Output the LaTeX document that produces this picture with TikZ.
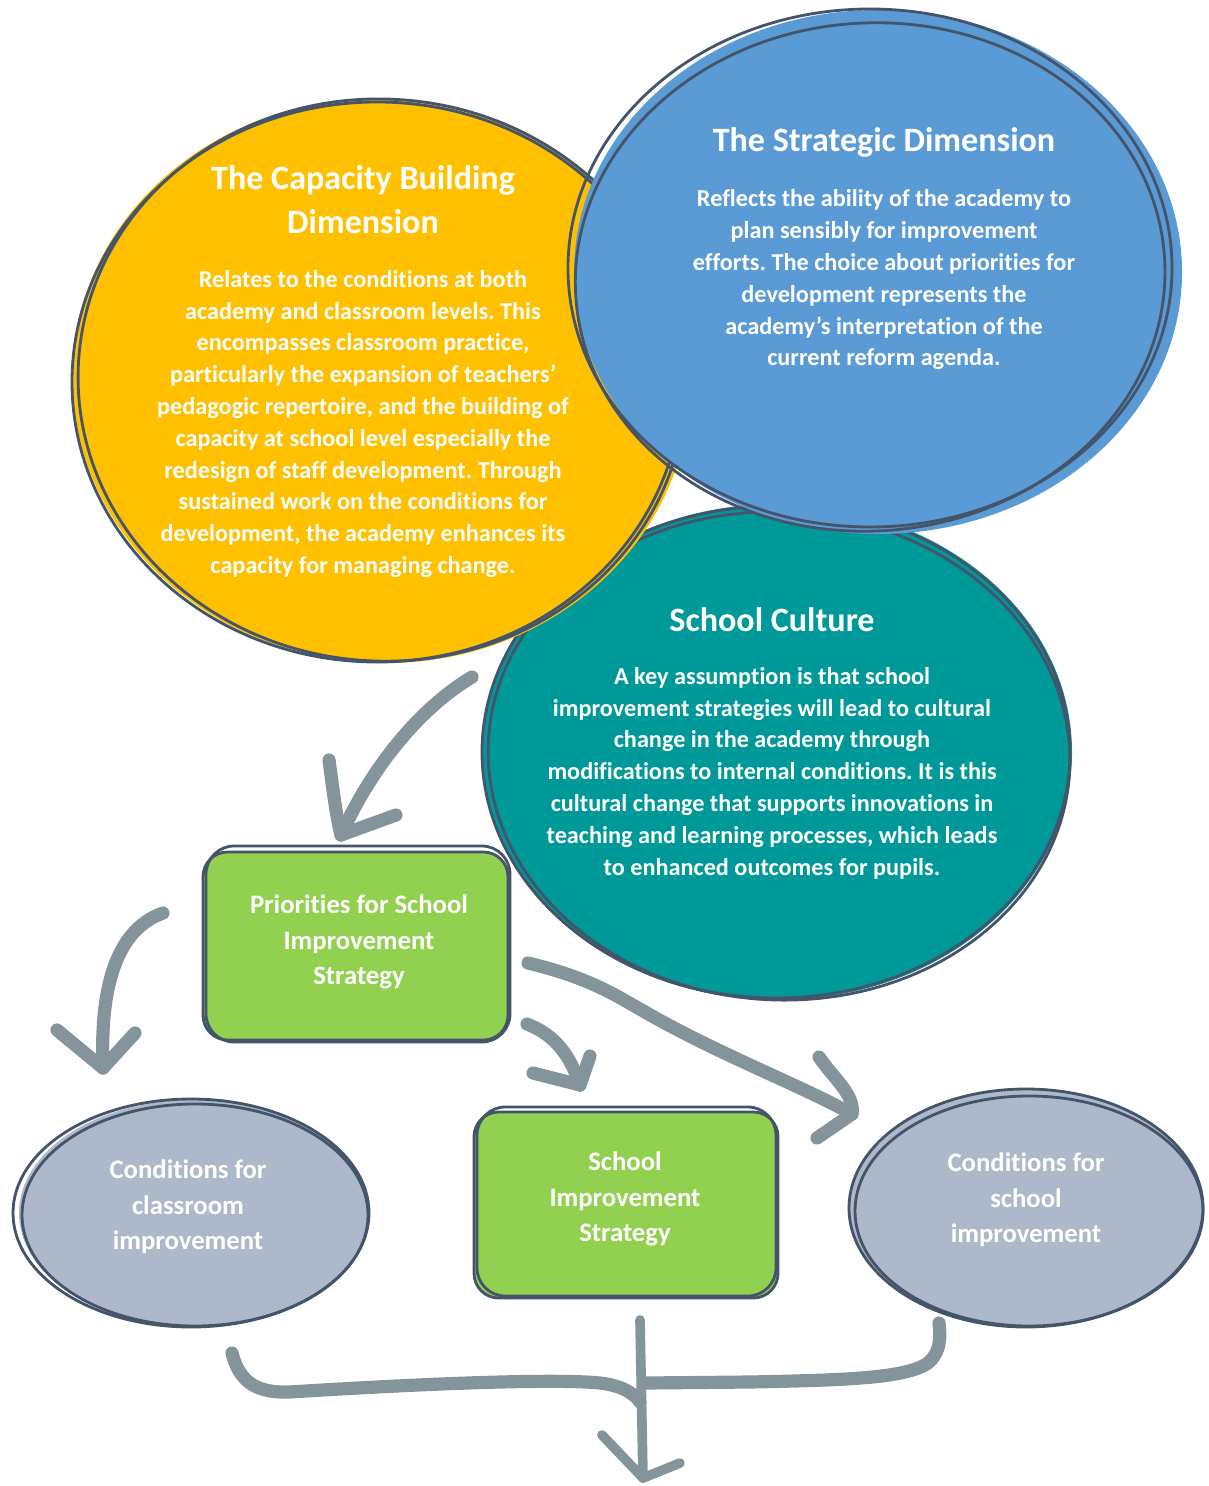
\documentclass[tikz,border=0pt]{standalone}
\usepackage{fontspec}
\setmainfont{Carlito}[Ligatures={NoCommon,NoContextual},RawFeature={-liga;-clig;-calt;-dlig}]
\frenchspacing
\definecolor{cYel}{HTML}{FFC000}
\definecolor{cBlue}{HTML}{5B9BD5}
\definecolor{cTeal}{HTML}{009999}
\definecolor{cGreen}{HTML}{92D050}
\definecolor{cGrey}{HTML}{ADB9CA}
\definecolor{cLine}{HTML}{44546A}
\definecolor{cArrow}{HTML}{84949B}
\begin{document}
\begin{tikzpicture}[x=0.02cm,y=-0.02cm,
 outl/.style={draw=cLine, line width=1.6pt},
 arr/.style={draw=cArrow, line width=7.5pt, line cap=round, line join=round},
 arrthin/.style={draw=cArrow, line width=5.5pt, line cap=round, line join=round},
 title/.style={text=white, font=\bfseries\fontsize{19.4}{25}\selectfont, align=center, inner sep=0pt},
 body/.style={text=white, font=\bfseries\fontsize{13.8}{18.1}\selectfont, align=center, inner sep=0pt},
 boxtxt/.style={text=white, font=\bfseries\fontsize{15.2}{20.1}\selectfont, align=center, inner sep=0pt},
]
\useasboundingbox (0,0) rectangle (1208,1486);
% teal (bottom layer)
\fill[cTeal] (777,752) ellipse [x radius=295, y radius=248];
\draw[outl] (776,752) ellipse [x radius=294, y radius=246];
\draw[outl, rotate around={-3:(780,756)}] (779,756) ellipse [x radius=291, y radius=244];
% yellow
\fill[cYel, rotate around={-4:(381,381)}] (381,381) ellipse [x radius=309, y radius=282];
\draw[outl] (377,382) ellipse [x radius=305, y radius=280];
\draw[outl, rotate around={-4:(381,380)}] (382,380) ellipse [x radius=304, y radius=281];
% blue (top layer)
\fill[cBlue] (878,272) ellipse [x radius=304, y radius=262];
\draw[outl] (870,268) ellipse [x radius=302, y radius=259];
\draw[outl, rotate around={4:(870,275)}] (870,277) ellipse [x radius=295, y radius=254];
% green boxes
\fill[cGreen, rounded corners=14pt] (203,852) rectangle (508,1040);
\draw[outl, rounded corners=14pt] (203,852) rectangle (508,1040);
\draw[outl, rounded corners=16pt] (206,846) rectangle (510,1042);
\fill[cGreen, rounded corners=14pt] (474,1112) rectangle (778,1298);
\draw[outl, rounded corners=14pt] (474,1112) rectangle (778,1298);
\draw[outl, rounded corners=16pt] (477,1107) rectangle (776,1296);
% grey ellipses
\fill[cGrey] (193,1213) ellipse [x radius=174, y radius=113];
\draw[outl] (191,1213) ellipse [x radius=178, y radius=114];
\draw[outl] (195,1215) ellipse [x radius=173, y radius=111];
\fill[cGrey] (1027,1208) ellipse [x radius=177, y radius=118];
\draw[outl] (1026,1208) ellipse [x radius=177, y radius=119];
\draw[outl] (1029,1211) ellipse [x radius=174, y radius=115];
% texts
\node[title] (capT) at (363,200) {The Capacity Building\\Dimension};
\node[body] (capB) at (363,424) {Relates to the conditions at both\\
academy and classroom levels. This\\
encompasses classroom practice,\\
particularly the expansion of teachers’\\
pedagogic repertoire, and the building of\\
capacity at school level especially the\\
redesign of staff development. Through\\
sustained work on the conditions for\\
development, the academy enhances its\\
capacity for managing change.};
\node[title] (strT) at (884,142) {The Strategic Dimension};
\node[body] (strB) at (884,280) {Reflects the ability of the academy to\\
plan sensibly for improvement\\
efforts. The choice about priorities for\\
development represents the\\
academy’s interpretation of the\\
current reform agenda.};
\node[title] (culT) at (772,620) {School Culture};
\node[body] (culB) at (772,773) {A key assumption is that school\\
improvement strategies will lead to cultural\\
change in the academy through\\
modifications to internal conditions. It is this\\
cultural change that supports innovations in\\
teaching and learning processes, which leads\\
to enhanced outcomes for pupils.};
\node[boxtxt] (pri) at (359,942) {Priorities for School\\Improvement\\Strategy};
\node[boxtxt] (sis) at (625,1199) {School\\Improvement\\Strategy};
\node[boxtxt] (ccl) at (188,1207) {Conditions for\\classroom\\improvement};
\node[boxtxt] (csc) at (1026,1200) {Conditions for\\school\\improvement};
% arrow coordinates
\coordinate (a1s) at (472,677); \coordinate (a1t) at (341,835);
\coordinate (a1l) at (329,760); \coordinate (a1r) at (396,815);
\coordinate (a2s) at (163,913); \coordinate (a2t) at (103,1068);
\coordinate (a2l) at (57,1030); \coordinate (a2r) at (135,1033);
\coordinate (a3s) at (527,1024); \coordinate (a3t) at (580,1085);
\coordinate (a3l) at (533,1073); \coordinate (a3r) at (590,1056);
\coordinate (a4s) at (528,963); \coordinate (a4t) at (852,1114);
\coordinate (a4u) at (819,1057); \coordinate (a4d) at (817,1138);
\coordinate (bl) at (232,1353); \coordinate (br) at (939,1323);
\coordinate (vt) at (640,1320); \coordinate (vb) at (643,1478);
\coordinate (hl) at (602,1435); \coordinate (hr) at (680,1463);
% arrows
\draw[arr] (a1s) .. controls (425,705) and (375,760) .. (a1t);
\draw[arr] (a1l) .. controls (333,790) and (336,815) .. (a1t) -- (a1r);
\draw[arr] (a2s) .. controls (115,930) and (100,990) .. (a2t);
\draw[arr] (a2l) -- (a2t) -- (a2r);
\draw[arr] (a3s) .. controls (555,1035) and (570,1055) .. (a3t);
\draw[arr] (a3l) -- (a3t) -- (a3r);
\draw[arr] (a4s) .. controls (590,978) and (615,995) .. (645,1012) .. controls (720,1055) and (800,1085) .. (a4t);
\draw[arr] (a4u) .. controls (835,1080) and (855,1095) .. (a4t) -- (a4d);
\draw[arr] (bl) .. controls (240,1385) and (260,1393) .. (290,1392) .. controls (400,1385) and (550,1378) .. (600,1383) .. controls (625,1386) and (635,1395) .. (640,1402);
\draw[arr] (645,1383) -- (750,1382) .. controls (850,1380) and (900,1378) .. (925,1365) .. controls (940,1355) and (941,1340) .. (br);
\draw[arrthin] (vt) -- (vb);
\draw[arrthin] (hl) -- (vb) -- (hr);
\end{tikzpicture}
\end{document}
